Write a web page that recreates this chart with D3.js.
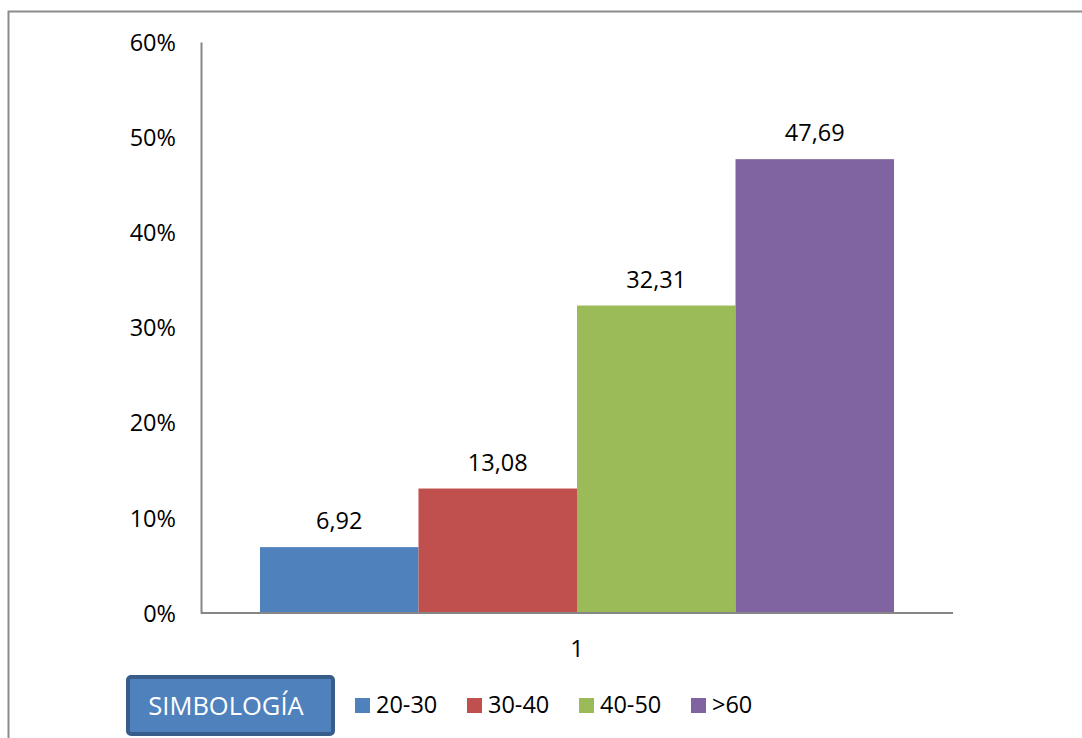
<!DOCTYPE html>
<html>
<head>
<meta charset="utf-8">
<script src="https://cdn.jsdelivr.net/npm/d3@7"></script>
<style>
  html, body { margin: 0; padding: 0; background: #fff; }
  svg { display: block; font-family: "Open Sans", "Noto Sans", sans-serif; }
</style>
</head>
<body>
<svg id="chart" width="1082" height="738"></svg>
<script>
// Age groups shown as one clustered group
const categories = ["1"];
const series = ["20-30", "30-40", "40-50", ">60"];
const values = [6.92, 13.08, 32.31, 47.69];
const colors = ["#4f81bd", "#c0504d", "#9bbb59", "#8064a2"];
const yTicks = [0, 10, 20, 30, 40, 50, 60];
const legendTitle = "SIMBOLOGÍA";

const svg = d3.select("#chart");
const fontSize = 23.5;

// outer frame
svg.append("rect")
  .attr("x", 8.5).attr("y", 11.5)
  .attr("width", 1090).attr("height", 740)
  .attr("fill", "none").attr("stroke", "#8c8c8c").attr("stroke-width", 2);

const plot = { left: 201, right: 953, top: 42, bottom: 613 };

const y = d3.scaleLinear().domain([0, 60]).range([plot.bottom, plot.top]);
const x0 = d3.scaleBand().domain(categories)
  .range([plot.left, plot.right]).paddingInner(0).paddingOuter(0.093);
const x1 = d3.scaleBand().domain(series).range([0, x0.bandwidth()]).padding(0);

// bars
const group = svg.append("g")
  .attr("transform", `translate(${x0(categories[0])},0)`);
group.selectAll("rect.bar")
  .data(series.map((s, i) => ({ s, v: values[i], c: colors[i] })))
  .join("rect")
  .attr("class", "bar")
  .attr("x", d => x1(d.s))
  .attr("width", x1.bandwidth())
  .attr("y", d => y(d.v))
  .attr("height", d => y(0) - y(d.v))
  .attr("fill", d => d.c);

// value labels
group.selectAll("text.val")
  .data(series.map((s, i) => ({ s, v: values[i] })))
  .join("text")
  .attr("class", "val")
  .attr("x", d => x1(d.s) + x1.bandwidth() / 2)
  .attr("y", d => y(d.v) - 18)
  .attr("text-anchor", "middle")
  .attr("font-size", fontSize)
  .attr("fill", "#000")
  .text(d => d.v.toFixed(2).replace(".", ","));

// y axis
const yAxis = d3.axisLeft(y).tickValues(yTicks).tickSize(0).tickPadding(25)
  .tickFormat(d => d + "%");
const gy = svg.append("g").attr("transform", `translate(${plot.left},0)`).call(yAxis);
gy.select(".domain").attr("stroke", "#868686").attr("stroke-width", 2);
gy.selectAll("text")
  .attr("font-size", fontSize).attr("fill", "#000")
  .attr("font-family", "Open Sans, Noto Sans, sans-serif")
  .attr("dy", "0.35em");

// x axis
const xAxis = d3.axisBottom(x0).tickSize(0).tickPadding(27);
const gx = svg.append("g").attr("transform", `translate(0,${plot.bottom})`).call(xAxis);
gx.select(".domain").attr("stroke", "#868686").attr("stroke-width", 2)
  .attr("d", `M${plot.left},0H${plot.right}`);
gx.selectAll("text")
  .attr("font-size", fontSize).attr("fill", "#000")
  .attr("font-family", "Open Sans, Noto Sans, sans-serif");

// legend title box
svg.append("rect")
  .attr("x", 128).attr("y", 677)
  .attr("width", 205).attr("height", 57)
  .attr("rx", 3)
  .attr("fill", "#4f81bd").attr("stroke", "#385d8a").attr("stroke-width", 4);
svg.append("text")
  .attr("x", 226).attr("y", 715)
  .attr("text-anchor", "middle")
  .attr("font-size", 25.5).attr("fill", "#fff")
  .text(legendTitle);

// legend entries
const legendX = [355, 467, 579, 691];
const legend = svg.append("g");
series.forEach((s, i) => {
  legend.append("rect")
    .attr("x", legendX[i]).attr("y", 698)
    .attr("width", 15).attr("height", 15)
    .attr("fill", colors[i]);
  legend.append("text")
    .attr("x", legendX[i] + 21).attr("y", 713)
    .attr("font-size", fontSize).attr("fill", "#000")
    .text(s);
});
</script>
</body>
</html>
